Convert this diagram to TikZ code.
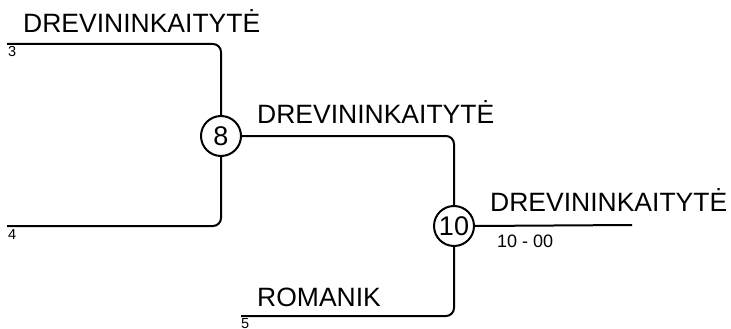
\documentclass[tikz,border=0pt]{standalone}
\usepackage{fontspec}
\setmainfont{Liberation Sans}
\begin{document}
\begin{tikzpicture}[x=1pt,y=-1pt,
  wire/.style={line width=2pt,rounded corners=8pt},
  playerlbl/.style={font=\fontsize{26.5}{30}\selectfont,anchor=base west,inner sep=0pt},
  seedlbl/.style={font=\fontsize{14.5}{16}\selectfont,anchor=north west,inner sep=0pt},
  scorelbl/.style={font=\fontsize{18}{20}\selectfont,anchor=north west,inner sep=0pt},
  gamecirc/.style={circle,draw,line width=2pt,minimum size=40pt,inner sep=0pt,font=\fontsize{27}{30}\selectfont}]
\useasboundingbox (0,0) rectangle (731,329);
\node[gamecirc] (c8) at (221,136) {8};
\node[gamecirc] (c10) at (454,226) {10};
\coordinate (a3) at (7,44);
\coordinate (a4) at (7,226);
\coordinate (a5) at (241,316);
\coordinate (aout) at (632,225);
\draw[wire] (a3) -| (c8.north);
\draw[wire] (a4) -| (c8.south);
\draw[wire] (c8.east) -| (c10.north);
\draw[wire] (a5) -| (c10.south);
\draw[wire] (c10.east) -- (aout);
\node[playerlbl] (n3) at (23,33) {DREVININKAITYTĖ};
\node[playerlbl] (n8) at (257,123) {DREVININKAITYTĖ};
\node[playerlbl] (n10) at (490,211) {DREVININKAITYTĖ};
\node[playerlbl] (n5) at (257,306) {ROMANIK};
\node[seedlbl] (s3) at (8,46) {3};
\node[seedlbl] (s4) at (8,229) {4};
\node[seedlbl] (s5) at (241,318) {5};
\node[scorelbl] (sc) at (497,235) {10 - 00};
\end{tikzpicture}
\end{document}
